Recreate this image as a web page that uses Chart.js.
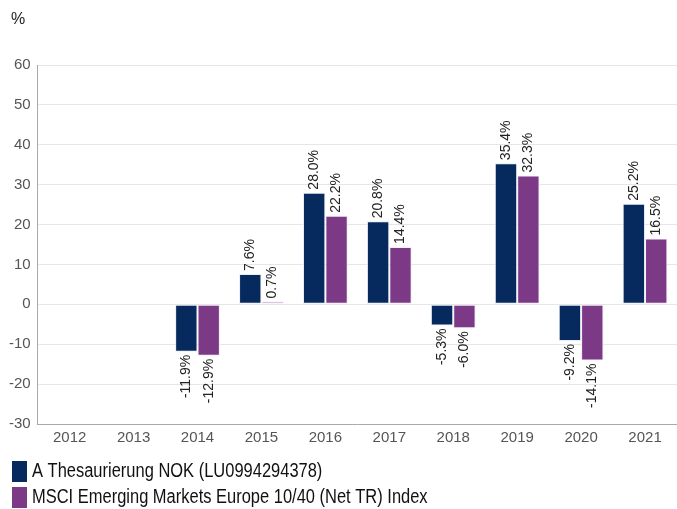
<!DOCTYPE html>
<html>
<head>
<meta charset="utf-8">
<script src="https://cdn.jsdelivr.net/npm/chart.js@4"></script>
<style>
  html, body { margin: 0; padding: 0; background: #fff; }
  #wrap { width: 677px; height: 509px; }
</style>
</head>
<body>
<div id="wrap"><canvas id="barChart" width="677" height="509"></canvas></div>
<script>
const years = ['2012', '2013', '2014', '2015', '2016', '2017', '2018', '2019', '2020', '2021'];
const fundValues = [null, null, -11.9, 7.6, 28.0, 20.8, -5.3, 35.4, -9.2, 25.2];
const indexValues = [null, null, -12.9, 0.7, 22.2, 14.4, -6.0, 32.3, -14.1, 16.5];
const fundName = 'A Thesaurierung NOK (LU0994294378)';
const indexName = 'MSCI Emerging Markets Europe 10/40 (Net TR) Index';

const FONT = '"Liberation Sans", Arial, sans-serif';

// rotated value labels, "%" unit and the legend at the bottom
const extras = {
  id: 'extras',
  afterDatasetsDraw(chart) {
    const ctx = chart.ctx;
    ctx.save();
    ctx.font = '14px ' + FONT;
    ctx.fillStyle = '#222';
    chart.data.datasets.forEach((ds, i) => {
      chart.getDatasetMeta(i).data.forEach((bar, j) => {
        const v = ds.data[j];
        if (v === null) return;
        const txt = v.toFixed(1) + '%';
        ctx.save();
        ctx.translate(bar.x, bar.y);
        ctx.rotate(-Math.PI / 2);
        ctx.textBaseline = 'middle';
        if (v >= 0) {
          ctx.textAlign = 'left';
          ctx.fillText(txt, 3, 0);
        } else {
          ctx.textAlign = 'right';
          ctx.fillText(txt, -3, 0);
        }
        ctx.restore();
      });
    });

    ctx.font = '16px ' + FONT;
    ctx.textAlign = 'left';
    ctx.textBaseline = 'middle';
    ctx.fillText('%', 11, 20);

    // legend
    chart.data.datasets.forEach((ds, i) => {
      const y = 461 + i * 26;
      ctx.fillStyle = ds.backgroundColor;
      ctx.fillRect(12, y, 15, 21);
      ctx.save();
      ctx.translate(32, y + 11);
      ctx.scale(0.845, 1);
      ctx.fillStyle = '#111';
      ctx.font = '19.5px ' + FONT;
      ctx.fillText(ds.label, 0, 0);
      ctx.restore();
    });
    ctx.restore();
  }
};

new Chart(document.getElementById('barChart'), {
  type: 'bar',
  data: {
    labels: years,
    datasets: [{
      label: fundName,
      data: fundValues,
      backgroundColor: '#062a5d',
      borderColor: 'rgba(230,236,245,0.9)',
      borderWidth: 1,
      borderSkipped: false
    }, {
      label: indexName,
      data: indexValues,
      backgroundColor: '#7b3986',
      borderColor: 'rgba(245,235,245,0.9)',
      borderWidth: 1,
      borderSkipped: false
    }]
  },
  options: {
    responsive: false,
    animation: false,
    devicePixelRatio: 1,
    layout: { padding: { top: 65, right: 0, left: 2, bottom: 57 } },
    datasets: { bar: { categoryPercentage: 0.7, barPercentage: 1.0 } },
    scales: {
      x: {
        grid: { display: false, drawTicks: false },
        border: { color: '#aaa', width: 1 },
        ticks: {
          color: '#555',
          padding: 5,
          font: { size: 15, family: FONT }
        }
      },
      y: {
        min: -30,
        max: 60,
        grid: { color: '#e6e6e6', drawTicks: false },
        border: { color: '#aaa', width: 1 },
        ticks: {
          stepSize: 10,
          color: '#555',
          padding: 7,
          font: { size: 15, family: FONT }
        }
      }
    },
    plugins: {
      legend: { display: false },
      tooltip: { enabled: false }
    }
  },
  plugins: [extras]
});
</script>
</body>
</html>
